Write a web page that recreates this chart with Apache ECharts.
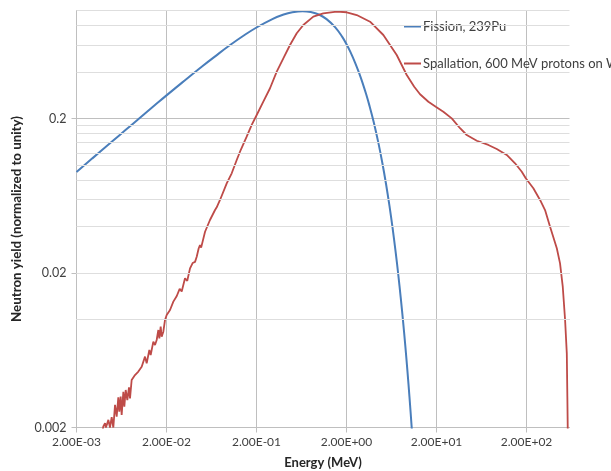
<!DOCTYPE html>
<html>
<head>
<meta charset="utf-8">
<script src="https://cdn.jsdelivr.net/npm/echarts@6/dist/echarts.min.js"></script>
<style>
html,body{margin:0;padding:0;background:#fff;}
#c{width:611px;height:471px;}
</style>
</head>
<body>
<div id="c"></div>
<script>
// ---- data ----
const seriesNames = ['Fission, 239Pu', 'Spallation, 600 MeV protons on W'];

const fissionE = [0.002, 0.003, 0.005, 0.007, 0.01, 0.015, 0.02, 0.03, 0.05, 0.07, 0.1, 0.15, 0.2, 0.3, 0.4, 0.5, 0.65, 0.8, 1.0, 1.2, 1.5, 1.8, 2.0, 2.2, 2.5, 2.8, 3.0, 3.3, 3.6, 4.0, 4.5, 5.0, 5.5, 6.0, 6.5, 7.0, 7.5, 8.0, 8.5, 9.0, 9.5, 10.0, 10.6, 11.0];
const fissionY = [0.0902, 0.1104, 0.1423, 0.1682, 0.2007, 0.2451, 0.2822, 0.3425, 0.4356, 0.5069, 0.5930, 0.6989, 0.7762, 0.880, 0.9415, 0.974, 0.990, 0.978, 0.9385, 0.879, 0.778, 0.673, 0.605, 0.5414, 0.4570, 0.3848, 0.3428, 0.2879, 0.2414, 0.1905, 0.1406, 0.1031, 0.0751, 0.0543, 0.0390, 0.0278, 0.0197, 0.01386, 0.00968, 0.00672, 0.00463, 0.00317, 0.00199, 0.00145];

const spallE = [0.00390, 0.00397, 0.00415, 0.00425, 0.00452, 0.00471, 0.00492, 0.00513, 0.00536, 0.00559, 0.00583, 0.00598, 0.00619, 0.00635, 0.00663, 0.0068, 0.00704, 0.00734, 0.00766, 0.00786, 0.0082, 0.00856, 0.00893, 0.00932, 0.00973, 0.01015, 0.0106, 0.01106, 0.01154, 0.01204, 0.01289, 0.01334, 0.01428, 0.0149, 0.01555, 0.01623, 0.01665, 0.01723, 0.01767, 0.01844, 0.01925, 0.02009, 0.02188, 0.02382,
  0.026, 0.028, 0.0295, 0.0321, 0.034, 0.0365, 0.039, 0.0415, 0.0433, 0.0455, 0.0471, 0.0485, 0.0536, 0.0608, 0.0692, 0.072, 0.0786, 0.0933, 0.098, 0.106, 0.1205, 0.1334, 0.155, 0.1769, 0.2009, 0.238, 0.2825, 0.3354, 0.397, 0.471, 0.5594, 0.6623, 0.8552, 1.104, 1.556, 2.01, 2.595, 3.65, 5.13, 7.22, 9.33, 11.3, 13.12, 16.23, 19.6, 23.8, 29.5, 36.5, 43.3, 56.0, 75.3, 93.3, 120.5, 149, 177, 196, 238, 282.5, 321, 365, 433.6, 471, 505, 536, 560, 568, 574];
const spallY = [0.0019, 0.00203, 0.00213, 0.0020, 0.00224, 0.0020, 0.00233, 0.0020, 0.0028, 0.00235, 0.00314, 0.00253, 0.00317, 0.00241, 0.00341, 0.00273, 0.0035, 0.00301, 0.00364, 0.00309, 0.00406, 0.00396, 0.00437, 0.00427, 0.0046, 0.00448, 0.00495, 0.00508, 0.00575, 0.0052, 0.00635, 0.00589, 0.00719, 0.00684, 0.00737, 0.00855, 0.00755, 0.00899, 0.00774, 0.00834, 0.00993, 0.0107, 0.01152, 0.01305,
  0.0142, 0.0158, 0.0152, 0.01848, 0.0178, 0.02144, 0.0232, 0.0236, 0.02551, 0.0288, 0.03035, 0.0292, 0.03698, 0.04405, 0.05114, 0.0530, 0.05937, 0.07614, 0.0750, 0.0884, 0.1078, 0.125, 0.152, 0.1816, 0.2107, 0.2568, 0.3138, 0.4018, 0.4904, 0.598, 0.712, 0.806, 0.912, 0.959, 0.982, 0.974, 0.935, 0.846, 0.694, 0.515, 0.3825, 0.321, 0.287, 0.2568, 0.2384, 0.2213, 0.2003, 0.173, 0.1564, 0.1436, 0.1348, 0.127, 0.1161, 0.1026, 0.0905, 0.082, 0.0707, 0.0594, 0.0511, 0.0399, 0.0289, 0.0231, 0.0163, 0.00993, 0.00604, 0.00316, 0.0019];

const xTicks = [0.002, 0.02, 0.2, 2, 20, 200];
const yTicks = [0.002, 0.02, 0.2];
const minorMultipliers = [2, 3, 4, 5, 6, 7, 8, 9];
const xMin = 0.002, xMax = 600, yMin = 0.002, yMax = 1;

// ---- build ----
const yMinor = [];
yTicks.forEach(function (t) {
  minorMultipliers.forEach(function (k) {
    const v = Number((t * k).toPrecision(6));
    if (v <= yMax + 1e-12) yMinor.push(v);
  });
});

function zip(a, b) { return a.map(function (v, i) { return [v, b[i]]; }); }
function fmtE(v) {
  const s = Number(v).toExponential(2);
  const parts = s.split('e');
  const n = parseInt(parts[1], 10);
  return parts[0] + 'E' + (n < 0 ? '-' : '+') + String(Math.abs(n)).padStart(2, '0');
}

const FONT = 'Lato';
const MAJOR = '#bfbfbf';
const MINOR = '#dedede';
const BLUE = '#4a7ebb';
const RED = '#be4b48';

const chart = echarts.init(document.getElementById('c'), null, { renderer: 'canvas' });
chart.setOption({
  animation: false,
  backgroundColor: '#ffffff',
  textStyle: { fontFamily: FONT },
  grid: { left: 76.5, right: 41.5, top: 10.5, bottom: 43.5, containLabel: false, outerBoundsMode: 'none' },
  legend: {
    orient: 'vertical',
    left: 404,
    top: 20,
    padding: 0,
    icon: 'rect',
    itemWidth: 17,
    itemHeight: 2,
    itemGap: 24,
    data: seriesNames,
    textStyle: { fontFamily: FONT, fontSize: 13, color: '#404040', padding: [0, 0, 0, -3] }
  },
  xAxis: {
    type: 'log',
    logBase: 10,
    min: xMin,
    max: xMax,
    name: 'Energy (MeV)',
    nameLocation: 'middle',
    nameGap: 29,
    nameTextStyle: { fontFamily: FONT, fontWeight: 'bold', fontSize: 13, color: '#262626' },
    axisLine: { show: true, lineStyle: { color: MAJOR, width: 1 } },
    axisTick: { show: true, inside: false, length: 5, customValues: xTicks, lineStyle: { color: MAJOR } },
    axisLabel: { customValues: xTicks, formatter: fmtE, margin: 9, fontSize: 12, color: '#404040', fontFamily: FONT },
    splitLine: { show: true, lineStyle: { color: MAJOR, width: 1 } },
    minorTick: { show: false },
    minorSplitLine: { show: false }
  },
  yAxis: [{
    type: 'log',
    logBase: 10,
    min: yMin,
    max: yMax,
    name: 'Neutron yield (normalized to unity)',
    nameLocation: 'middle',
    nameGap: 52,
    nameRotate: 90,
    nameTextStyle: { fontFamily: FONT, fontWeight: 'bold', fontSize: 13.3, color: '#262626' },
    axisLine: { show: true, lineStyle: { color: MAJOR, width: 1 } },
    axisTick: { show: true, inside: false, length: 5, customValues: yTicks, lineStyle: { color: MAJOR } },
    axisLabel: { customValues: yTicks, formatter: function (v) { return String(Number(Number(v).toPrecision(3))); }, margin: 10, fontSize: 12.5, color: '#404040', fontFamily: FONT },
    splitLine: { show: true, lineStyle: { color: MAJOR, width: 1 } },
    minorTick: { show: false },
    minorSplitLine: { show: false },
    z: 1
  }],
  series: [
    {
      name: 'minor-grid',
      type: 'line',
      data: [],
      silent: true,
      z: 1,
      symbol: 'none',
      markLine: {
        silent: true,
        symbol: ['none', 'none'],
        label: { show: false },
        animation: false,
        lineStyle: { color: MINOR, width: 1, type: 'solid' },
        emphasis: { disabled: true },
        data: yMinor.map(function (v) { return { yAxis: v }; })
      }
    },
    {
      name: seriesNames[0],
      type: 'line',
      data: zip(fissionE, fissionY),
      smooth: 0.4,
      symbol: 'none',
      clip: true,
      z: 3,
      lineStyle: { color: BLUE, width: 2 },
      itemStyle: { color: BLUE }
    },
    {
      name: seriesNames[1],
      type: 'line',
      data: zip(spallE, spallY),
      symbol: 'none',
      clip: true,
      z: 4,
      lineStyle: { color: RED, width: 1.8 },
      itemStyle: { color: RED }
    }
  ]
});
</script>
</body>
</html>
